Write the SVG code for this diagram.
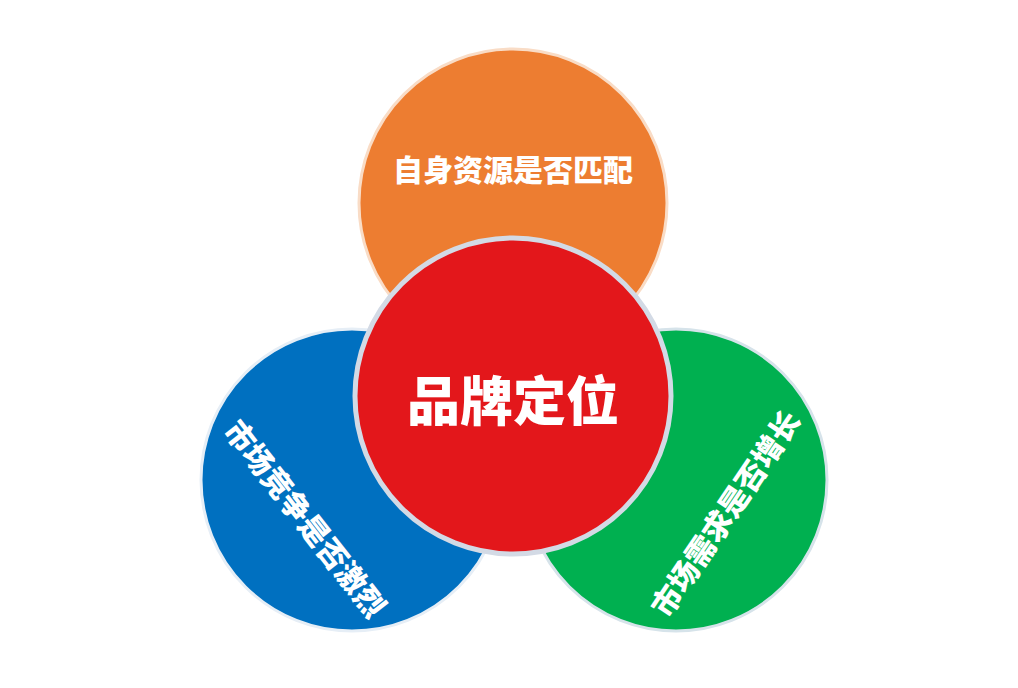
<svg xmlns="http://www.w3.org/2000/svg" width="1018" height="688" viewBox="0 0 1018 688">
<style>
text{font-family:"Noto Sans CJK SC","Noto Sans",sans-serif;font-weight:900;fill:#fff;text-anchor:middle;dominant-baseline:central}
.s{font-size:30px}
</style>
<rect width="1018" height="688" fill="#fff"/>
<g id="node-orange">
<circle cx="513" cy="203" r="154" fill="#ED7D31" stroke="#F9DCC6" stroke-width="3"/>
<text class="s" x="513" y="168">自身资源是否匹配</text>
</g>
<g id="node-blue">
<circle cx="352" cy="480" r="151" fill="#0070C0" stroke="#E6EEF6" stroke-width="3"/>
<text class="s" transform="translate(306.5,517.5) rotate(52)">市场竞争是否激烈</text>
</g>
<g id="node-green">
<circle cx="676" cy="480" r="151" fill="#00B050" stroke="#D6E3EA" stroke-width="3"/>
<text class="s" transform="translate(724,512.5) rotate(-56)">市场需求是否增长</text>
</g>
<g id="node-red">
<circle cx="513" cy="396" r="158" fill="#E3171B" stroke="#D3DAE5" stroke-width="5"/>
<text x="513" y="398" style="font-size:53px">品牌定位</text>
</g>
<g id="connectors"></g>
</svg>
